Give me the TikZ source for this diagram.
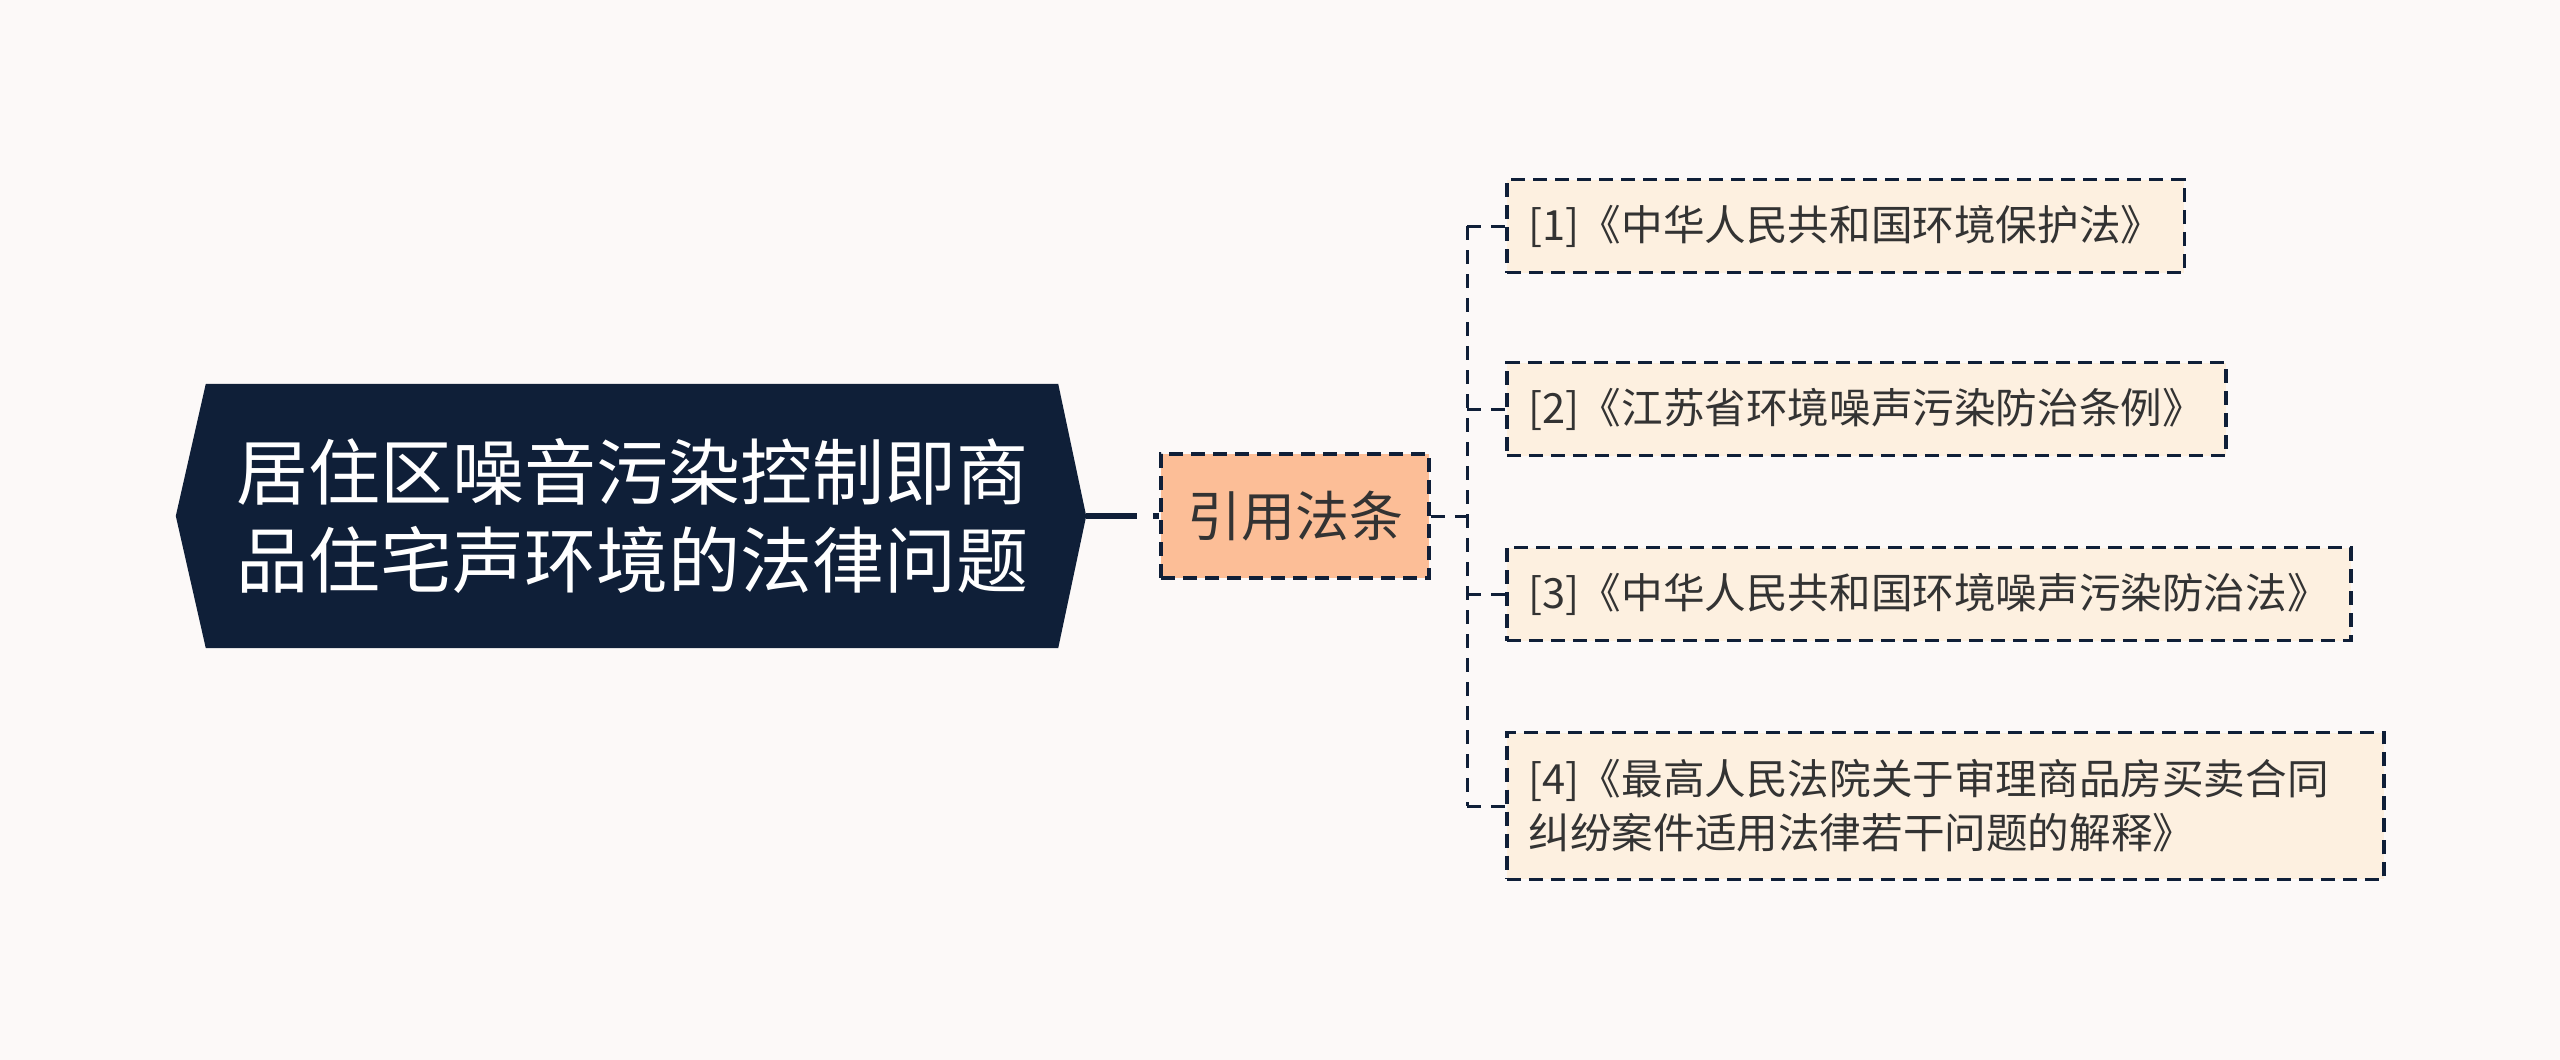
\documentclass[tikz,border=0pt]{standalone}
\usepackage{fontspec}
\newfontfamily\cjk{Noto Sans CJK SC}
\usetikzlibrary{backgrounds}
\definecolor{bgcol}{HTML}{FCF9F8}
\definecolor{navy}{HTML}{0F1F38}
\definecolor{peach}{HTML}{FCBE97}
\definecolor{cream}{HTML}{FDF0E0}
\definecolor{inkgray}{HTML}{333333}
\begin{document}
\begin{tikzpicture}[x=1pt,y=-1pt,
  dashbox/.style={rectangle,draw=navy,line width=3.5pt,dash pattern=on 14pt off 8pt},
  lawbox/.style={dashbox,fill=cream,anchor=west,inner xsep=22pt,minimum height=93pt,text=inkgray,font=\cjk\fontsize{41.6}{54}\selectfont,align=left},
  link/.style={draw=navy,line width=3pt,dash pattern=on 14pt off 10pt}]
  \useasboundingbox (0,0) rectangle (2560,1060);
  % draw background
  \begin{scope}[on background layer]
    \fill[bgcol] (0,0) rectangle (2560,1060);
  \end{scope}
  % draw topic text
  \node at(632,516)[minimum width=852pt,minimum height=264pt,text=white,align=center,font=\cjk\fontsize{72}{88}\selectfont](topic){居住区噪音污染控制即商\\品住宅声环境的法律问题};
  % draw topic shape behind the text
  \begin{scope}[on background layer]
    \fill[navy] (topic.north west) -- (topic.north east) -- ([xshift=28pt]topic.east) -- (topic.south east) -- (topic.south west) -- ([xshift=-30pt]topic.west) -- cycle;
  \end{scope}
  % draw citation box
  \node at(1295,516)[dashbox,fill=peach,minimum width=268pt,minimum height=124pt,text=inkgray,font=\cjk\fontsize{54}{60}\selectfont](cite){引用法条};
  % draw arrow from topic to citation box
  \draw[navy,line width=6pt,dash pattern=on 51pt off 16pt on 8pt off 100pt]([xshift=28pt]topic.east) -- (cite);
  % draw law boxes
  \node at(1505,226)[lawbox](law1){[1]《中华人民共和国环境保护法》};
  \node at(1505,409)[lawbox](law2){[2]《江苏省环境噪声污染防治条例》};
  \node at(1505,594)[lawbox](law3){[3]《中华人民共和国环境噪声污染防治法》};
  \node at(1505,806)[lawbox,text width=833pt,inner ysep=27pt](law4){[4]《最高人民法院关于审理商品房买卖合同\\纠纷案件适用法律若干问题的解释》};
  % draw bracket from citation box to law boxes
  \coordinate (spine) at (1467,516);
  \draw[link](cite) -- (spine);
  \draw[link](spine |- law1.west) -- (spine |- law4.west);
  \foreach \n in {1,...,4}
    \draw[link](spine |- law\n.west) -- (law\n.west);
\end{tikzpicture}
\end{document}
